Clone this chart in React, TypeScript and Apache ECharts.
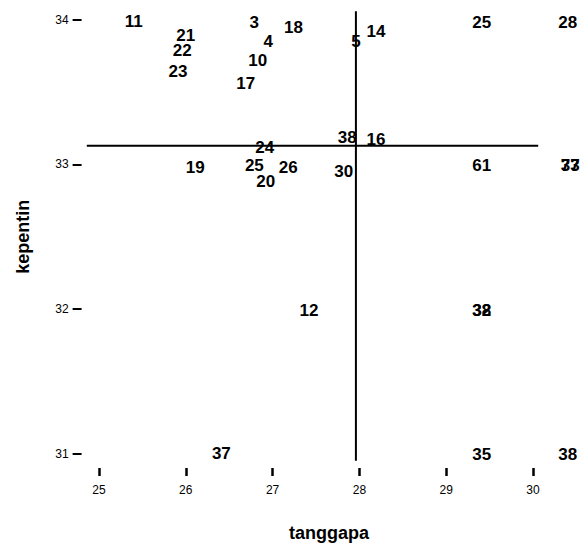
import React, { useEffect, useRef } from "react";
import * as echarts from "echarts";

// Case numbers plotted at (tanggapa, kepentin)
const caseLabels = [
  "11", "21", "22", "23", "3", "4", "18", "10", "17", "5", "14", "25", "28",
  "24", "19", "25", "26", "20", "38", "16", "30", "61", "33", "77",
  "12", "32", "38", "37", "35", "38",
];
const tanggapa = [
  25.4, 26.0, 25.96, 25.91, 26.79, 26.95, 27.24, 26.83, 26.69, 27.96, 28.19, 29.41, 30.4,
  26.91, 26.11, 26.79, 27.18, 26.92, 27.86, 28.19, 27.82, 29.41, 30.43, 30.43,
  27.42, 29.41, 29.41, 26.41, 29.41, 30.4,
];
const kepentin = [
  33.99, 33.89, 33.79, 33.64, 33.98, 33.85, 33.95, 33.72, 33.56, 33.85, 33.92, 33.98, 33.98,
  33.12, 32.98, 32.99, 32.98, 32.88, 33.19, 33.17, 32.95, 32.99, 32.99, 32.99,
  31.99, 31.99, 31.99, 31.0, 30.99, 30.99,
];

const xTicks = [25, 26, 27, 28, 29, 30];
const yTicks = [31, 32, 33, 34];

// Reference lines (means of each axis)
const meanTanggapa = 27.96;
const meanKepentin = 33.13;
const vLineSpan = [34.06, 30.95];
const hLineSpan = [24.86, 30.06];

const FONT = "'Liberation Sans', Arial, Helvetica, sans-serif";

export default function App() {
  const ref = useRef<HTMLDivElement>(null);

  useEffect(() => {
    if (!ref.current) return;
    const chart = echarts.init(ref.current, null, { renderer: "svg" });
    const points = caseLabels.map((name, i) => ({
      name,
      value: [tanggapa[i], kepentin[i]],
    }));

    chart.setOption({
      animation: false,
      backgroundColor: "#ffffff",
      grid: { left: 81.6, right: 3.6, top: 5.5, bottom: 78.5 },
      xAxis: {
        type: "value",
        min: 24.8,
        max: 30.5,
        name: "tanggapa",
        nameLocation: "middle",
        nameGap: 56,
        nameTextStyle: { fontFamily: FONT, fontSize: 18, fontWeight: "bold", color: "#000" },
        axisLine: { show: false },
        splitLine: { show: false },
        axisTick: {
          show: true,
          length: 8,
          customValues: xTicks,
          lineStyle: { color: "#000", width: 2.5 },
        },
        axisLabel: {
          customValues: xTicks,
          margin: 16,
          fontFamily: FONT,
          fontSize: 12,
          color: "#000",
        },
      },
      yAxis: {
        type: "value",
        min: 30.9,
        max: 34.1,
        name: "kepentin",
        nameLocation: "middle",
        nameGap: 50,
        nameTextStyle: { fontFamily: FONT, fontSize: 18, fontWeight: "bold", color: "#000" },
        axisLine: { show: false },
        splitLine: { show: false },
        axisTick: {
          show: true,
          length: 9,
          customValues: yTicks,
          lineStyle: { color: "#000", width: 2 },
        },
        axisLabel: {
          customValues: yTicks,
          margin: 13,
          fontFamily: FONT,
          fontSize: 12,
          color: "#000",
        },
      },
      series: [
        {
          type: "line",
          data: [
            [meanTanggapa, vLineSpan[0]],
            [meanTanggapa, vLineSpan[1]],
          ],
          symbol: "none",
          lineStyle: { color: "#000", width: 2 },
          silent: true,
        },
        {
          type: "line",
          data: [
            [hLineSpan[0], meanKepentin],
            [hLineSpan[1], meanKepentin],
          ],
          symbol: "none",
          lineStyle: { color: "#000", width: 2 },
          silent: true,
        },
        {
          type: "scatter",
          data: points,
          symbolSize: 2,
          itemStyle: { color: "rgba(0,0,0,0)" },
          label: {
            show: true,
            position: "inside",
            formatter: (p: any) => p.name,
            fontFamily: FONT,
            fontSize: 17,
            fontWeight: "bold",
            color: "#000000",
            opacity: 1,
            textBorderWidth: 0,
            textBorderColor: "transparent",
          },
          labelLayout: { hideOverlap: false },
        },
      ],
    });

    return () => chart.dispose();
  }, []);

  return (
    <div
      ref={ref}
      style={{ position: "fixed", left: 0, top: 0, width: 580, height: 547 }}
    />
  );
}
